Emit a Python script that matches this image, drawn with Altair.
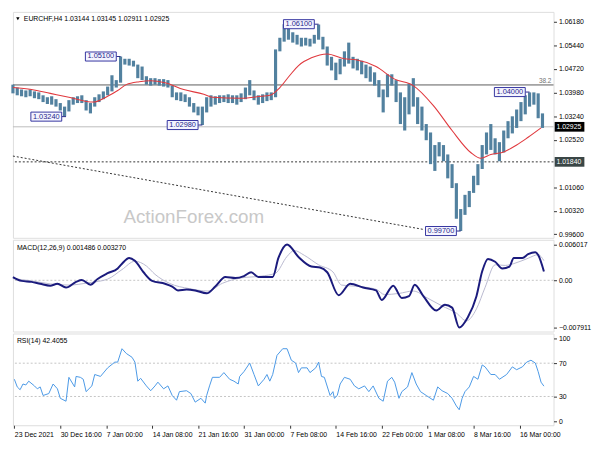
import altair as alt
import pandas as pd

# ---------------- data ----------------
HEADER = "EURCHF,H4  1.03144 1.03145 1.02911 1.02925"
MACD_TITLE = "MACD(12,26,9) 0.001486 0.003270"
RSI_TITLE = "RSI(14) 42.4055"

# price bars (every 3rd H4 bar)
BAR_IDX = list(range(0, 372, 3))
HIGH = [1.0423,1.0414,1.0408,1.0405,1.0408,1.0402,1.0399,1.0390,1.0384,1.0387,
        1.0378,1.0366,1.0355,1.0375,1.0384,1.0387,1.0390,1.0375,1.0366,1.0384,
        1.0393,1.0402,1.0417,1.0452,1.0437,1.0510,1.0503,1.0503,1.0497,1.0485,
        1.0479,1.0449,1.0443,1.0443,1.0440,1.0440,1.0437,1.0420,1.0399,1.0399,
        1.0393,1.0384,1.0366,1.0355,1.0355,1.0384,1.0390,1.0387,1.0390,1.0390,
        1.0393,1.0390,1.0390,1.0396,1.0414,1.0437,1.0405,1.0390,1.0393,1.0399,
        1.0399,1.0532,1.0568,1.0610,1.0597,1.0585,1.0577,1.0568,1.0568,1.0565,
        1.0577,1.0609,1.0571,1.0541,1.0509,1.0491,1.0503,1.0526,1.0553,1.0509,
        1.0503,1.0497,1.0485,1.0479,1.0461,1.0437,1.0408,1.0455,1.0455,1.0437,
        1.0399,1.0384,1.0426,1.0443,1.0384,1.0355,1.0301,1.0275,1.0236,1.0245,
        1.0236,1.0207,1.0177,1.0118,1.0038,1.0082,1.0094,1.0141,1.0177,1.0236,
        1.0275,1.0301,1.0257,1.0245,1.0281,1.0310,1.0325,1.0346,1.0369,1.0390,
        1.0399,1.0399,1.0396,1.0334]
LOW = [1.0396,1.0390,1.0387,1.0384,1.0387,1.0381,1.0378,1.0369,1.0363,1.0361,
       1.0355,1.0343,1.0325,1.0340,1.0361,1.0366,1.0366,1.0343,1.0334,1.0355,
       1.0369,1.0378,1.0390,1.0402,1.0414,1.0429,1.0485,1.0482,1.0479,1.0443,
       1.0437,1.0423,1.0420,1.0423,1.0420,1.0417,1.0414,1.0384,1.0375,1.0372,
       1.0369,1.0355,1.0337,1.0328,1.0298,1.0337,1.0355,1.0361,1.0366,1.0369,
       1.0366,1.0366,1.0361,1.0369,1.0378,1.0390,1.0375,1.0361,1.0366,1.0372,
       1.0375,1.0384,1.0526,1.0556,1.0562,1.0553,1.0547,1.0541,1.0544,1.0541,
       1.0550,1.0562,1.0532,1.0482,1.0467,1.0437,1.0455,1.0479,1.0488,1.0473,
       1.0467,1.0455,1.0443,1.0432,1.0420,1.0384,1.0337,1.0384,1.0420,1.0369,
       1.0301,1.0281,1.0331,1.0355,1.0301,1.0281,1.0251,1.0177,1.0156,1.0201,
       1.0186,1.0133,1.0103,1.0008,0.9970,1.0020,1.0044,1.0088,1.0112,1.0162,
       1.0207,1.0221,1.0207,1.0186,1.0213,1.0257,1.0272,1.0289,1.0310,1.0331,
       1.0355,1.0361,1.0319,1.0289]

# moving average (red)
MA_IDX = [0,13,26,39,56,66,73,79,88,96,106,119,133,139,159,173,179,186,193,199,
          208,219,231,239,253,266,279,293,306,319,326,333,341,351,359,368]
MA_VAL = [1.0414,1.0408,1.0396,1.0384,1.0369,1.0387,1.0405,1.0423,1.0432,1.0435,
          1.0429,1.0408,1.0393,1.0384,1.0381,1.0387,1.0390,1.0414,1.0452,1.0482,
          1.0506,1.0518,1.0503,1.0500,1.0479,1.0440,1.0420,1.0358,1.0281,1.0213,
          1.0195,1.0207,1.0213,1.0236,1.0260,1.0289]

# labelled extremes
EXT_TEXT = ["1.03240", "1.05100", "1.02980", "1.06100", "1.04000", "0.99700"]
EXT_PRICE = [1.0324, 1.0510, 1.0298, 1.0610, 1.0400, 0.9970]
EXT_BAR = [37, 75, 132, 213, 360, 312]

# horizontal levels
LEVEL_CURRENT = 1.02925
LEVEL_FIB = 1.0422
LEVEL_SUPPORT = 1.0184
TAG_TEXT = ["1.02925", "1.01840"]
TAG_PRICE = [1.02925, 1.0184]
TAG_FILL = ["#000000", "#3a4646"]

# trend line
TREND_BAR = [0, 286]
TREND_PRICE = [1.0202, 0.9975]

PRICE_TICKS = [0.9960, 1.0032, 1.0106, 1.0252, 1.0324, 1.0398, 1.0472, 1.0544, 1.0618]

# MACD
MACD_IDX = [0,6,13,19,26,31,37,44,48,54,59,66,73,76,81,85,91,97,106,111,
            115,121,127,135,141,148,155,161,166,171,181,185,191,199,208,214,219,227,235,244,
            253,257,265,271,276,280,286,295,301,306,311,317,323,327,331,336,341,346,349,355,
            359,364,366,370]
MACD_VAL = [0.00055,-0.0001,-0.00026,-0.00058,-0.0009,-0.00058,-0.00122,-0.00026,0.00006,-0.00074,
            0.00022,0.00119,0.00199,0.00279,0.00375,0.00327,0.00135,-0.0001,-0.00058,-0.00106,
            -0.0017,-0.00154,-0.0017,-0.00218,-0.00106,0.00055,0.00038,0.00071,0.00135,0.00055,
            0.00055,0.00375,0.00602,0.00391,0.00231,0.00215,0.00135,-0.0025,-0.00058,-0.00122,
            -0.0017,-0.0033,-0.0009,-0.00298,-0.00266,-0.00074,-0.00266,-0.00507,-0.00411,-0.00459,
            -0.00791,-0.00619,-0.00266,0.00151,0.00359,0.00311,0.00199,0.00231,0.00375,0.00375,
            0.00439,0.00472,0.00423,0.00149]
SIG_IDX = [0,13,26,39,53,66,76,85,93,99,109,123,136,146,159,173,183,191,196,203,
           213,223,229,239,253,259,269,279,289,299,309,316,323,329,336,343,349,359,366,370]
SIG_VAL = [0.0003,-0.0001,-0.0006,-0.0008,-0.0004,0.0002,0.0018,0.0032,0.0024,0.0010,
           -0.0005,-0.0014,-0.0018,-0.0005,0.0004,0.0007,0.0012,0.0040,0.0050,0.0042,
           0.0026,0.0014,-0.0008,-0.0010,-0.0015,-0.0024,-0.0022,-0.0018,-0.0030,-0.0043,
           -0.0055,-0.0068,-0.0048,-0.0012,0.0026,0.0025,0.0028,0.0037,0.0043,0.0033]
MACD_TICKS = [-0.007911, 0.0, 0.006017]

# RSI
RSI_IDX = [1,3,5,7,9,11,15,17,19,21,25,28,31,33,37,39,43,44,47,49,
           51,55,57,61,66,71,73,76,79,83,85,87,89,93,96,99,101,105,108,111,
           114,116,121,124,127,131,134,135,137,139,144,147,151,154,157,158,161,165,168,171,
           175,177,179,181,184,188,191,194,197,199,201,205,207,211,213,215,217,221,223,224,
           226,228,231,235,238,241,245,248,251,255,258,261,264,266,269,271,275,278,281,284,
           288,293,296,299,303,306,309,311,313,315,318,321,324,327,329,333,336,339,344,348,
           351,355,358,361,364,366,368,370]
RSI_VAL = [50.7,41.5,38.1,45.0,43.8,48.4,42.7,39.2,41.5,31.2,
           33.5,45.0,39.2,27.8,24.3,53.0,41.5,54.1,53.0,50.7,
           35.8,42.7,56.4,54.1,64.4,71.3,71.3,87.4,81.7,77.1,
           71.3,48.4,51.8,42.7,36.9,42.7,47.2,39.2,42.7,31.2,
           25.5,35.8,36.9,33.5,23.2,27.8,22.0,31.2,42.7,53.0,
           53.0,58.7,50.7,48.4,45.0,54.1,59.9,70.2,56.4,42.7,
           50.7,56.4,48.4,56.4,79.4,87.4,87.4,73.6,70.2,58.7,
           64.4,64.4,58.7,64.4,71.3,54.1,53.0,31.2,35.8,27.8,
           31.2,45.0,53.0,50.7,42.7,39.2,42.7,35.8,42.7,27.8,
           24.3,48.4,53.0,47.2,27.8,35.8,41.5,58.7,45.0,35.8,
           31.2,25.5,41.5,36.9,33.5,27.8,18.6,14.0,27.8,35.8,
           41.5,54.1,50.7,67.9,65.6,56.4,56.4,50.7,56.4,65.6,
           62.2,65.6,71.3,73.6,70.2,59.9,47.2,42.4]
RSI_LEVELS = [30, 70]
RSI_TICKS = [0, 30, 70, 100]

DATE_TICKS = [1, 33, 65, 97, 129, 161, 193, 225, 257, 289, 321, 353]
DATE_LABELS = ["23 Dec 2021", "30 Dec 16:00", "7 Jan 00:00", "14 Jan 08:00", "21 Jan 16:00",
               "31 Jan 00:00", "7 Feb 08:00", "14 Feb 16:00", "22 Feb 00:00", "1 Mar 08:00",
               "8 Mar 16:00", "16 Mar 00:00"]

WATERMARK = "ActionForex.com"

# ---------------- layout ----------------
W = 548
H_MAIN, H_MACD, H_RSI = 229, 93, 93
X_MAX = 376.7
FONT = "Liberation Sans"
FS = 7

xs = alt.Scale(domain=[0, X_MAX], nice=False, zero=False)
ys_main = alt.Scale(domain=[0.9949, 1.0648], nice=False, zero=False)
ys_macd = alt.Scale(domain=[-0.0086, 0.0068], nice=False, zero=False)
ys_rsi = alt.Scale(domain=[-4.6, 105.7], nice=False, zero=False)

AX_COMMON = dict(orient="right", grid=False, domain=False, tickSize=3, labelPadding=2,
                 title=None, labelFontSize=FS, labelFont=FONT, labelColor="#000",
                 tickColor="#333", labelOverlap=False, labelFlush=False)
price_axis = alt.Axis(values=PRICE_TICKS, format=".5f", **AX_COMMON)
macd_axis = alt.Axis(values=MACD_TICKS,
                     labelExpr="datum.value == 0 ? '0.00' : format(datum.value, '.6f')",
                     **AX_COMMON)
rsi_axis = alt.Axis(values=RSI_TICKS, format="d", **AX_COMMON)
label_js = "[" + ",".join("'" + s + "'" for s in DATE_LABELS) + "]"
date_axis = alt.Axis(values=DATE_TICKS, grid=False, domain=False, tickSize=3, labelPadding=2,
                     title=None, labelFontSize=FS, labelFont=FONT, labelColor="#000",
                     tickColor="#333", labelAlign="left", labelOverlap=False,
                     labelFlush=False,
                     labelExpr=label_js + "[round((datum.value - 1) / 32)]")


def X(field):
    return alt.X(field, type="quantitative", scale=xs, axis=None)


def XR(field):
    return alt.X(field, type="quantitative", scale=xs, axis=date_axis)


def Ym(field):
    return alt.Y(field, type="quantitative", scale=ys_main, axis=price_axis)


def Yd(field):
    return alt.Y(field, type="quantitative", scale=ys_macd, axis=macd_axis)


def Yr(field):
    return alt.Y(field, type="quantitative", scale=ys_rsi, axis=rsi_axis)


# ---- main panel ----
bars = pd.DataFrame({"bar": BAR_IDX, "high": HIGH, "low": LOW})
ma = pd.DataFrame({"bar": MA_IDX, "v": MA_VAL})
ext = pd.DataFrame({"t": EXT_TEXT, "p": EXT_PRICE, "bar": EXT_BAR})
ext["x1"] = ext["bar"] - 24.5
ext["x2"] = ext["bar"] - 3.0
ext["xc"] = (ext["x1"] + ext["x2"]) / 2
ext["p1"] = ext["p"] - 0.0014
ext["p2"] = ext["p"] + 0.0014
tags = pd.DataFrame({"t": TAG_TEXT, "p": TAG_PRICE, "c": TAG_FILL})
tags["x1"] = X_MAX + 0.8
tags["x2"] = X_MAX + 21.5
tags["xt"] = X_MAX + 2.0
tags["p1"] = tags["p"] - 0.0015
tags["p2"] = tags["p"] + 0.0015
trend = pd.DataFrame({"bar": TREND_BAR, "p": TREND_PRICE})
one = pd.DataFrame({"t": [HEADER]})

watermark = alt.Chart(pd.DataFrame({"t": [WATERMARK], "bar": [126], "p": [1.0014]})).mark_text(
    font=FONT, fontSize=19, color="#c8c8c8").encode(x=X("bar"), y=Ym("p"), text="t:N")

lvl_cur = alt.Chart(pd.DataFrame({"p": [LEVEL_CURRENT]})).mark_rule(
    color="#bdbdbd", strokeWidth=1).encode(y=Ym("p"))
lvl_fib = alt.Chart(pd.DataFrame({"p": [LEVEL_FIB]})).mark_rule(
    color="#5a5a5a", strokeWidth=1).encode(y=Ym("p"))
lvl_sup = alt.Chart(pd.DataFrame({"p": [LEVEL_SUPPORT]})).mark_rule(
    color="#333", strokeWidth=1, strokeDash=[2, 2]).encode(y=Ym("p"))
fib_txt = alt.Chart(pd.DataFrame({"t": ["38.2"], "bar": [X_MAX - 1.5], "p": [LEVEL_FIB]})).mark_text(
    font=FONT, fontSize=6.5, color="#707070", align="right", baseline="bottom", dy=-1).encode(
    x=X("bar"), y=Ym("p"), text="t:N")
trend_line = alt.Chart(trend).mark_line(color="#333", strokeWidth=1, strokeDash=[2, 2]).encode(
    x=X("bar"), y=Ym("p"))

price_bars = alt.Chart(bars).mark_rule(color="#52819f", strokeWidth=3.2).encode(
    x=X("bar"), y=Ym("low"), y2="high")
ma_line = alt.Chart(ma).mark_line(color="#e0393e", strokeWidth=1.1, interpolate="monotone").encode(
    x=X("bar"), y=Ym("v"))

conn = alt.Chart(ext).mark_rule(color="#2a2a8a", strokeWidth=1).encode(
    x=X("x2"), x2="bar", y=Ym("p"))
boxes = alt.Chart(ext).mark_rect(fill="#f4f4ff", stroke="#3535a0", strokeWidth=1).encode(
    x=X("x1"), x2="x2", y=Ym("p1"), y2="p2")
box_txt = alt.Chart(ext).mark_text(font=FONT, fontSize=FS + 0.5, color="#25258a").encode(
    x=X("xc"), y=Ym("p"), text="t:N")

tag_box = alt.Chart(tags).mark_rect().encode(
    x=X("x1"), x2="x2", y=Ym("p1"), y2="p2",
    fill=alt.Fill("c:N", scale=None))
tag_txt = alt.Chart(tags).mark_text(font=FONT, fontSize=FS, color="#ffffff", align="left").encode(
    x=X("xt"), y=Ym("p"), text="t:N")

hdr_tri = alt.Chart(one).mark_point(shape="triangle-down", filled=True, color="#000", size=12,
                                     opacity=1).encode(x=alt.value(5), y=alt.value(7))
hdr_txt = alt.Chart(one).mark_text(font=FONT, fontSize=FS, color="#000", align="left").encode(
    x=alt.value(11), y=alt.value(7), text="t:N")

main = alt.layer(watermark, lvl_cur, lvl_fib, lvl_sup, fib_txt, trend_line, price_bars, ma_line,
                 conn, boxes, box_txt, tag_box, tag_txt, hdr_tri, hdr_txt).properties(
    width=W, height=H_MAIN)

# ---- MACD panel ----
macd_df = pd.DataFrame({"bar": MACD_IDX, "v": MACD_VAL})
sig_df = pd.DataFrame({"bar": SIG_IDX, "v": SIG_VAL})
zero = alt.Chart(pd.DataFrame({"v": [0.0]})).mark_rule(color="#c4c4c4", strokeDash=[2, 2]).encode(
    y=Yd("v"))
sig_line = alt.Chart(sig_df).mark_line(color="#b9b9cf", strokeWidth=1, interpolate="monotone").encode(
    x=X("bar"), y=Yd("v"))
macd_line = alt.Chart(macd_df).mark_line(color="#1b1b7d", strokeWidth=2, interpolate="monotone").encode(
    x=X("bar"), y=Yd("v"))
macd_t = alt.Chart(pd.DataFrame({"t": [MACD_TITLE]})).mark_text(
    font=FONT, fontSize=FS, color="#000", align="left").encode(
    x=alt.value(4), y=alt.value(8), text="t:N")
macd = alt.layer(zero, sig_line, macd_line, macd_t).properties(width=W, height=H_MACD)

# ---- RSI panel ----
rsi_df = pd.DataFrame({"bar": RSI_IDX, "v": RSI_VAL})
rsi_lv = alt.Chart(pd.DataFrame({"v": RSI_LEVELS})).mark_rule(
    color="#c4c4c4", strokeDash=[2, 2]).encode(y=Yr("v"))
rsi_line = alt.Chart(rsi_df).mark_line(color="#4a98e6", strokeWidth=1).encode(
    x=XR("bar"), y=Yr("v"))
rsi_t = alt.Chart(pd.DataFrame({"t": [RSI_TITLE]})).mark_text(
    font=FONT, fontSize=FS, color="#000", align="left").encode(
    x=alt.value(4), y=alt.value(8), text="t:N")
rsi = alt.layer(rsi_lv, rsi_line, rsi_t).properties(width=W, height=H_RSI)

chart = alt.vconcat(main, macd, rsi, spacing=2, bounds="flush").configure_view(
    stroke="#3a3a3a", strokeWidth=1).configure(background="#ffffff", padding=0)

chart.save("out.html", embed_options={"renderer": "svg", "actions": False})
